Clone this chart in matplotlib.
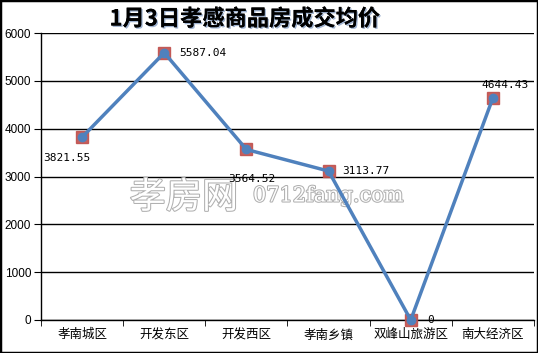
import matplotlib
matplotlib.use("Agg")
import matplotlib.pyplot as plt
import matplotlib.patheffects as pe
from matplotlib.patches import Rectangle
import numpy as np

plt.rcParams['font.family'] = ['Noto Sans CJK SC', 'DejaVu Sans']

categories = ["孝南城区", "开发东区", "开发西区", "孝南乡镇", "双峰山旅游区", "南大经济区"]
values = [3821.55, 5587.04, 3564.52, 3113.77, 0, 4644.43]
value_labels = ["3821.55", "5587.04", "3564.52", "3113.77", "0", "4644.43"]
yticks = [0, 1000, 2000, 3000, 4000, 5000, 6000]
title = "1月3日孝感商品房成交均价"

# label offsets in points (dx, dy, ha)
offsets = [(-11, -15, 'center'), (11, 0, 'left'), (4, -21, 'center'),
           (10, 0, 'left'), (12, 0, 'left'), (9, 9, 'center')]

fig = plt.figure(figsize=(5.38, 3.53), dpi=100)
ax = fig.add_axes([41/538, 33/353, 493/538, 287/353])

x = np.arange(len(categories))
ax.set_xlim(-0.5, len(categories) - 0.5)
ax.set_ylim(0, 6000)
ax.set_yticks(yticks)
ax.set_yticklabels([str(t) for t in yticks], fontsize=8.5, family='Liberation Sans')
ax.yaxis.grid(True, color='black', linewidth=1)
ax.set_axisbelow(True)

ax.set_xticks(x)
ax.set_xticklabels(categories, fontsize=9)
ax.set_xticks(np.arange(-0.5, len(categories)), minor=True)
ax.tick_params(axis='x', which='major', length=0, pad=6)
ax.tick_params(axis='x', which='minor', length=4, direction='out', color='black')
ax.tick_params(axis='y', length=5, direction='out', pad=2)

for s in ['top', 'right']:
    ax.spines[s].set_visible(False)
ax.spines['left'].set_linewidth(1)
ax.spines['bottom'].set_linewidth(1)

# watermark
ax.text(0.18, 0.425, "孝房网", transform=ax.transAxes, fontsize=26, color='white',
        ha='left', va='center', zorder=1,
        path_effects=[pe.withStroke(linewidth=1.5, foreground='#b0b0b0')])
ax.text(0.43, 0.432, "0712fang.com", transform=ax.transAxes, fontsize=15, color='white',
        family='DejaVu Serif', ha='left', va='center', zorder=1,
        path_effects=[pe.withStroke(linewidth=1.5, foreground='#b0b0b0')])

ax.plot(x, values, linestyle='none', marker='s', markersize=9,
        markerfacecolor='#C0504D', markeredgecolor='#C0504D', alpha=0.9, zorder=3, clip_on=False)
ax.plot(x, values, color='#4F81BD', linewidth=2.5, marker='o', markersize=6,
        markerfacecolor='#4F81BD', markeredgecolor='#4F81BD', zorder=4, clip_on=False)

for xi, v, lab, (dx, dy, ha) in zip(x, values, value_labels, offsets):
    ax.annotate(lab, (xi, v), xytext=(dx, dy), textcoords='offset points',
                ha=ha, va='center', fontsize=8, family='DejaVu Sans Mono', zorder=5)

fig.text(245/538, 1 - 19/353, title, fontsize=16, fontweight='bold', ha='center', va='center',
         color='black', family=['Noto Sans CJK SC', 'DejaVu Sans'],
         path_effects=[pe.withSimplePatchShadow(offset=(1, -1), shadow_rgbFace='#6080b0', alpha=0.6), pe.Normal()])

fig.patches.append(Rectangle((0, 0), 1, 1, transform=fig.transFigure, fill=False,
                             edgecolor='black', linewidth=2.5))

fig.savefig("out.png", dpi=100)
